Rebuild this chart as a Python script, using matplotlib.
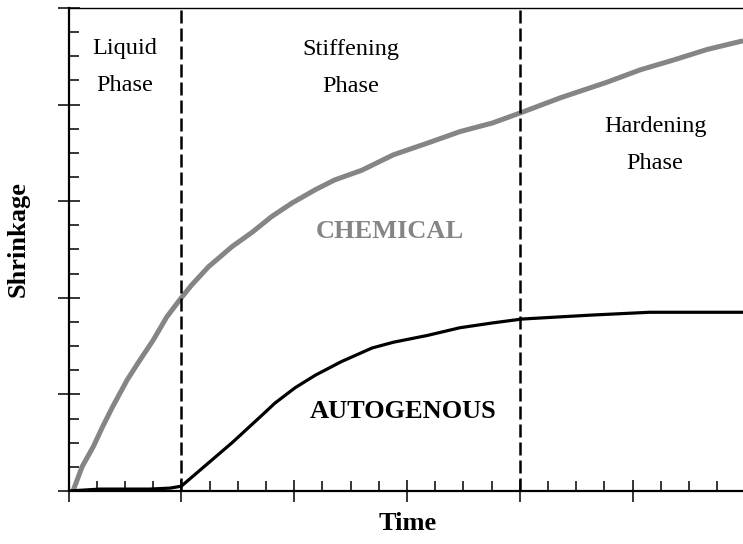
import matplotlib
matplotlib.use("Agg")
import matplotlib.pyplot as plt
from matplotlib.ticker import MultipleLocator

plt.rcParams['font.family'] = ['Liberation Serif', 'DejaVu Serif']

# chemical shrinkage curve (grey)
chem_t = [0.04, 0.12, 0.22, 0.30, 0.39, 0.52, 0.63, 0.75, 0.87, 1.0, 1.09, 1.24,
          1.45, 1.63, 1.80, 1.98, 2.19, 2.36, 2.60, 2.88, 3.18, 3.47, 3.76, 4.02,
          4.36, 4.77, 5.07, 5.36, 5.66, 5.98]
chem_s = [0.0, 0.25, 0.46, 0.66, 0.87, 1.15, 1.35, 1.56, 1.80, 2.0, 2.13, 2.32,
          2.53, 2.68, 2.84, 2.98, 3.12, 3.22, 3.32, 3.48, 3.60, 3.72, 3.81, 3.92,
          4.07, 4.23, 4.36, 4.46, 4.57, 4.66]

# autogenous shrinkage curve (black)
auto_t = [0.0, 0.28, 0.72, 0.90, 1.0, 1.24, 1.45, 1.72, 1.83, 2.01, 2.19, 2.42,
          2.69, 2.88, 3.18, 3.47, 3.76, 4.02, 4.62, 5.15, 5.98]
auto_s = [0.0, 0.02, 0.02, 0.03, 0.05, 0.29, 0.50, 0.79, 0.91, 1.07, 1.20, 1.34,
          1.48, 1.54, 1.61, 1.69, 1.74, 1.78, 1.82, 1.85, 1.85]

phase_bounds = [1, 4]
phase_labels = ["Liquid\nPhase", "Stiffening\nPhase", "Hardening\nPhase"]
phase_pos = [(0.5, 4.39), (2.5, 4.38), (5.2, 3.58)]

fig = plt.figure(figsize=(7.43, 5.44), dpi=100)
ax = fig.add_axes([0.0922, 0.0974, 0.911, 0.888])

ax.plot(chem_t, chem_s, color='#858585', lw=3.6, solid_capstyle='butt')
ax.plot(auto_t, auto_s, color='black', lw=2.3)

for b in phase_bounds:
    ax.axvline(b, color='black', lw=1.8, ls=(0, (5.2, 2)))

for lab, (x, y) in zip(phase_labels, phase_pos):
    ax.text(x, y, lab, ha='center', va='center', fontsize=17.5, linespacing=2.0)

ax.text(2.85, 2.69, "CHEMICAL", color='#858585', fontsize=19, fontweight='bold',
        ha='center', va='center')
ax.text(2.97, 0.82, "AUTOGENOUS", color='black', fontsize=19, fontweight='bold',
        ha='center', va='center')

ax.set_xlim(0, 6)
ax.set_ylim(0, 5)
ax.xaxis.set_major_locator(MultipleLocator(1))
ax.xaxis.set_minor_locator(MultipleLocator(0.25))
ax.yaxis.set_major_locator(MultipleLocator(1))
ax.yaxis.set_minor_locator(MultipleLocator(0.25))
ax.tick_params(which='major', direction='inout', length=16, width=1.1, color='black',
               labelbottom=False, labelleft=False)
ax.tick_params(which='minor', direction='in', length=7, width=1.1, color='black')

ax.spines['right'].set_visible(False)
ax.spines['left'].set_linewidth(1.6)
ax.spines['bottom'].set_linewidth(1.6)
ax.spines['top'].set_linewidth(1.0)

fig.text(0.549, 0.038, "Time", fontsize=19, fontweight='bold', ha='center', va='center')
fig.text(0.025, 0.56, "Shrinkage", fontsize=19, fontweight='bold', ha='center',
         va='center', rotation=90)

fig.savefig("out.png", dpi=100)
